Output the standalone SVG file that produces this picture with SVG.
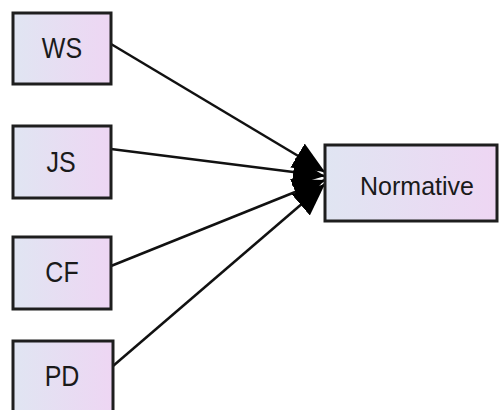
<svg xmlns="http://www.w3.org/2000/svg" width="500" height="410" viewBox="0 0 500 410">
  <defs>
    <linearGradient id="fill" x1="0" y1="0" x2="1" y2="0">
      <stop offset="0" stop-color="#e0e5f2"/>
      <stop offset="1" stop-color="#eed6f3"/>
    </linearGradient>
    <marker id="arrow" markerUnits="userSpaceOnUse" markerWidth="34" markerHeight="30" refX="32" refY="14" orient="auto">
      <path d="M0,0 L32,14 L0,28 z" fill="#000"/>
    </marker>
    <style>
      .box { fill: url(#fill); stroke: #1e1e1e; stroke-width: 3; }
      .lbl { font-family: "Liberation Sans", Arial, sans-serif; font-size: 25px; fill: #1a1a1a; text-anchor: middle; }
      .edge { stroke: #111; stroke-width: 2.5; fill: none; marker-end: url(#arrow); }
    </style>
  </defs>
  <rect width="500" height="410" fill="#fff"/>
  <g id="connectors">
    <line class="edge" x1="111" y1="44" x2="325" y2="172"/>
    <line class="edge" x1="111" y1="149" x2="325" y2="176"/>
    <line class="edge" x1="111" y1="266" x2="325" y2="180"/>
    <line class="edge" x1="113" y1="366" x2="325" y2="184"/>
  </g>
  <g id="WS">
    <rect class="box" x="13" y="13" width="98" height="71"/>
    <text class="lbl" transform="translate(62,57.5) scale(1,1.2)">WS</text>
  </g>
  <g id="JS">
    <rect class="box" x="13" y="126" width="98" height="72"/>
    <text class="lbl" transform="translate(61,172) scale(1,1.2)">JS</text>
  </g>
  <g id="CF">
    <rect class="box" x="13" y="237" width="98" height="72"/>
    <text class="lbl" transform="translate(62,282) scale(1,1.2)">CF</text>
  </g>
  <g id="PD">
    <rect class="box" x="13" y="341" width="100" height="74"/>
    <text class="lbl" transform="translate(62,386) scale(1,1.2)">PD</text>
  </g>
  <g id="Normative">
    <rect class="box" x="325" y="145" width="172" height="76"/>
    <text class="lbl" x="417" y="195">Normative</text>
  </g>
</svg>
